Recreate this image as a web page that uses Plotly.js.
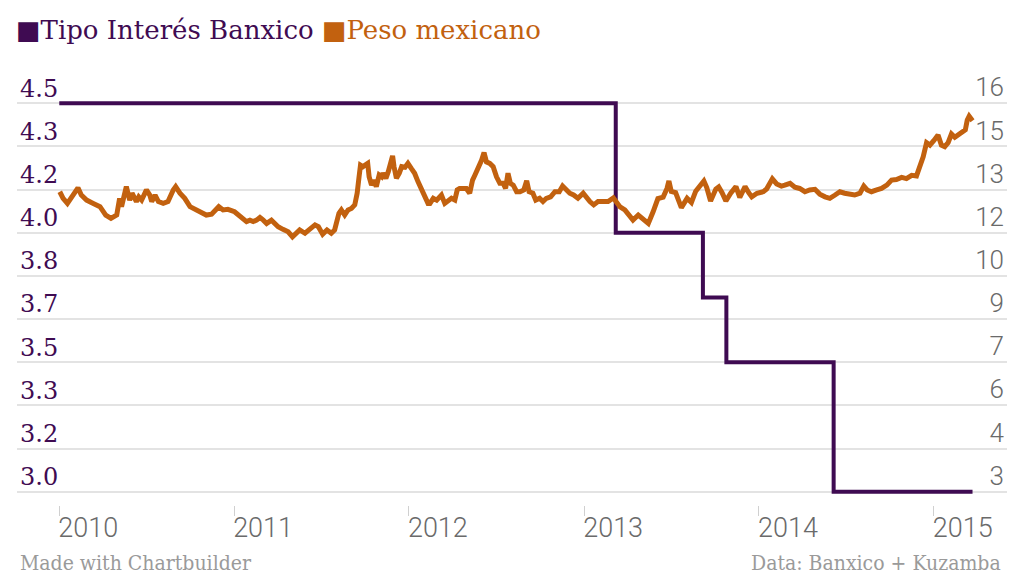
<!DOCTYPE html>
<html>
<head>
<meta charset="utf-8">
<script src="https://cdn.plot.ly/plotly-3.0.1.min.js"></script>
<style>
  html, body { margin: 0; padding: 0; background: #fff; }
  #chart { width: 1024px; height: 577px; }
</style>
</head>
<body>
<div id="chart"></div>
<script>
// Banxico target rate (%), step changes
const rateDates = ['2010-01-01', '2013-03-08', '2013-09-06', '2013-10-25', '2014-06-06', '2015-03-23'];
const rateValues = [4.5, 4.0, 3.75, 3.5, 3.0, 3.0];

// Mexican peso per US dollar
const pesoDates = [
  '2010-01-02','2010-01-09','2010-01-18','2010-01-28','2010-02-06','2010-02-09','2010-02-16','2010-02-27',
  '2010-03-13','2010-03-27','2010-04-08','2010-04-19','2010-05-01','2010-05-07','2010-05-11','2010-05-18',
  '2010-05-21','2010-05-28','2010-06-02','2010-06-11','2010-06-16','2010-06-22','2010-07-02','2010-07-09',
  '2010-07-13','2010-07-20','2010-07-27','2010-08-06','2010-08-16','2010-08-27','2010-09-01','2010-09-10',
  '2010-09-20','2010-10-01','2010-10-11','2010-10-25','2010-11-04','2010-11-15','2010-11-25','2010-11-30',
  '2010-12-09','2010-12-19',
  '2011-01-02','2011-01-13','2011-01-20','2011-01-27','2011-02-03','2011-02-10','2011-02-17','2011-02-24',
  '2011-03-03','2011-03-10','2011-03-20','2011-03-27','2011-04-03','2011-04-13','2011-04-24','2011-05-03',
  '2011-05-11','2011-05-18','2011-05-29','2011-06-08','2011-06-19','2011-06-26','2011-07-05','2011-07-14',
  '2011-07-23','2011-07-30','2011-08-08','2011-08-13','2011-08-20','2011-08-27','2011-09-03','2011-09-10',
  '2011-09-15','2011-09-19','2011-09-22','2011-09-27','2011-10-03','2011-10-07','2011-10-10','2011-10-15',
  '2011-10-20','2011-10-25','2011-10-31','2011-11-05','2011-11-08','2011-11-14','2011-11-19','2011-11-24',
  '2011-11-28','2011-12-01','2011-12-06','2011-12-12','2011-12-17','2011-12-24','2011-12-30',
  '2012-01-06','2012-01-13','2012-01-20','2012-01-27','2012-02-03','2012-02-10','2012-02-14','2012-02-21',
  '2012-02-28','2012-03-09','2012-03-16','2012-03-23','2012-03-30','2012-04-06','2012-04-11','2012-04-16',
  '2012-04-23','2012-04-30','2012-05-07','2012-05-13','2012-05-18','2012-05-25','2012-06-01','2012-06-06',
  '2012-06-11','2012-06-18','2012-06-25','2012-07-02','2012-07-09','2012-07-16','2012-07-21','2012-07-26',
  '2012-07-31','2012-08-06','2012-08-13','2012-08-20','2012-08-28','2012-09-03','2012-09-08','2012-09-16',
  '2012-09-22','2012-09-30','2012-10-07','2012-10-14','2012-10-23','2012-11-01','2012-11-10','2012-11-17',
  '2012-11-24','2012-12-02','2012-12-10','2012-12-19','2012-12-30',
  '2013-01-06','2013-01-13','2013-01-21','2013-01-30','2013-02-09','2013-02-20','2013-03-03','2013-03-10',
  '2013-03-17','2013-03-27','2013-04-06','2013-04-13','2013-04-24','2013-05-04','2013-05-15','2013-05-25',
  '2013-06-04','2013-06-15','2013-06-23','2013-06-27','2013-07-02','2013-07-11','2013-07-23','2013-08-04',
  '2013-08-13','2013-08-22','2013-08-31','2013-09-08','2013-09-14','2013-09-22','2013-10-03','2013-10-09',
  '2013-10-16','2013-10-24','2013-11-03','2013-11-14','2013-11-22','2013-12-03','2013-12-11','2013-12-17',
  '2013-12-28',
  '2014-01-10','2014-01-17','2014-01-29','2014-02-07','2014-02-17','2014-02-24','2014-03-07','2014-03-17',
  '2014-03-27','2014-04-07','2014-04-17','2014-04-28','2014-05-08','2014-05-19','2014-05-29','2014-06-09',
  '2014-06-19','2014-06-29','2014-07-10','2014-07-20','2014-07-31','2014-08-08','2014-08-15','2014-08-24',
  '2014-09-04','2014-09-14','2014-09-25','2014-10-05','2014-10-15','2014-10-26','2014-11-05','2014-11-16',
  '2014-11-26','2014-12-03','2014-12-10','2014-12-17','2014-12-24',
  '2015-01-01','2015-01-10','2015-01-17','2015-01-24','2015-01-31','2015-02-07','2015-02-14','2015-02-21',
  '2015-03-02','2015-03-08','2015-03-12','2015-03-16','2015-03-23'
];
const pesoValues = [
  13.04,12.82,12.65,12.87,13.10,13.17,12.93,12.76,
  12.65,12.54,12.26,12.15,12.26,12.82,12.54,13.10,
  13.21,12.76,12.99,12.71,12.87,12.76,13.10,12.93,
  12.71,12.93,12.71,12.65,12.71,13.10,13.21,12.99,
  12.82,12.54,12.45,12.37,12.26,12.29,12.43,12.54,
  12.43,12.45,
  12.37,12.21,12.09,12.04,12.09,12.04,12.09,12.18,
  12.09,11.98,12.09,11.98,11.87,11.78,11.70,11.53,
  11.65,11.76,11.65,11.76,11.93,11.87,11.62,11.76,
  11.65,11.76,12.32,12.43,12.26,12.43,12.48,12.60,
  12.99,13.54,13.93,13.88,13.93,13.99,13.54,13.26,
  13.43,13.21,13.60,13.54,13.66,13.49,13.71,14.10,
  14.24,13.88,13.49,13.66,13.88,13.86,13.99,
  13.82,13.66,13.38,13.10,12.82,12.65,12.65,12.82,
  12.76,12.93,12.65,12.76,12.82,12.76,13.10,13.15,
  13.15,13.15,12.99,13.43,13.60,13.82,14.10,14.35,
  14.04,13.99,13.88,13.54,13.32,13.32,13.15,13.66,
  13.32,13.26,13.04,13.04,13.10,13.41,13.04,12.99,
  12.76,12.82,12.71,12.82,12.87,13.04,13.04,13.23,
  13.10,12.99,12.93,12.82,12.99,
  12.82,12.71,12.60,12.71,12.71,12.71,12.83,12.71,
  12.53,12.43,12.26,12.09,12.26,12.15,11.98,12.37,
  12.81,12.86,13.15,13.40,13.05,13.01,12.51,12.82,
  12.68,13.06,13.26,13.40,13.18,12.73,13.13,13.20,
  13.01,12.73,12.99,13.21,12.85,13.21,13.00,12.87,
  12.99,
  13.04,13.13,13.47,13.30,13.23,13.26,13.32,13.19,
  13.15,13.04,13.10,13.12,12.96,12.87,12.82,12.93,
  13.04,12.99,12.96,12.93,12.99,13.23,13.10,13.04,
  13.10,13.15,13.26,13.43,13.45,13.52,13.48,13.59,
  13.57,13.88,14.21,14.68,14.60,
  14.75,14.94,14.60,14.55,14.68,14.97,14.86,14.94,
  15.05,15.11,15.44,15.57,15.42
];

// Axis ticks
const yearTicks = ['2010-01-01', '2011-01-01', '2012-01-01', '2013-01-01', '2014-01-01', '2015-01-01'];
const yearLabels = ['2010', '2011', '2012', '2013', '2014', '2015'];
const rateTickVals = [3.0, 3.1667, 3.3333, 3.5, 3.6667, 3.8333, 4.0, 4.1667, 4.3333, 4.5];
const rateTickText = ['3.0', '3.2', '3.3', '3.5', '3.7', '3.8', '4.0', '4.2', '4.3', '4.5'];
const pesoTickVals = [3, 4.4444, 5.8889, 7.3333, 8.7778, 10.2222, 11.6667, 13.1111, 14.5556, 16];
const pesoTickText = ['3', '4', '6', '7', '9', '10', '12', '13', '15', '16'];

const PURPLE = '#3f0b52';
const ORANGE = '#c2610f';
const GREY = '#6a6a6a';

const traces = [
  {
    x: rateDates, y: rateValues, yaxis: 'y', type: 'scatter', mode: 'lines',
    line: { color: PURPLE, width: 4, shape: 'hv' }, hoverinfo: 'skip'
  },
  {
    x: pesoDates, y: pesoValues, yaxis: 'y2', type: 'scatter', mode: 'lines',
    line: { color: ORANGE, width: 5, shape: 'linear' }, hoverinfo: 'skip'
  }
];

const layout = {
  width: 1024, height: 577,
  margin: { l: 17, r: 17, t: 70, b: 72 },
  paper_bgcolor: '#ffffff', plot_bgcolor: '#ffffff',
  showlegend: false,
  title: {
    text: '<span style="color:' + PURPLE + '">■Tipo Interés Banxico</span> ' +
          '<span style="color:' + ORANGE + '">■Peso mexicano</span>',
    font: { family: 'DejaVu Serif', size: 26 },
    x: 16 / 1024, xanchor: 'left', xref: 'container',
    y: 1 - 30 / 577, yanchor: 'middle', yref: 'container'
  },
  xaxis: {
    type: 'date',
    range: ['2009-10-04 17:00', '2015-06-03'],
    tickvals: yearTicks, ticktext: yearLabels,
    ticks: 'outside', ticklen: 10, tickwidth: 1, tickcolor: '#d0d0d0',
    ticklabelshift: 29, ticklabelstandoff: -11,
    tickfont: { family: 'Roboto', size: 27, color: GREY, weight: 300 },
    showgrid: false, zeroline: false, showline: false
  },
  yaxis: {
    range: [2.94863, 4.6286],
    tickvals: rateTickVals, ticktext: rateTickText,
    ticklabelposition: 'inside', ticklabelshift: -15, ticklabelstandoff: 0,
    tickfont: { family: 'DejaVu Serif', size: 24, color: PURPLE },
    showgrid: true, gridcolor: '#e3e3e3', gridwidth: 2,
    zeroline: false, showline: false, ticks: ''
  },
  yaxis2: {
    overlaying: 'y', side: 'right',
    range: [2.55485, 17.1146],
    tickvals: pesoTickVals, ticktext: pesoTickText,
    ticklabelposition: 'inside', ticklabelshift: -16, ticklabelstandoff: 0,
    tickfont: { family: 'Roboto', size: 26, color: GREY, weight: 300 },
    showgrid: false, zeroline: false, showline: false, ticks: ''
  },
  annotations: [
    {
      text: 'Made with Chartbuilder', xref: 'paper', yref: 'paper',
      x: 1 / 990, y: (505 - 563) / 435, xanchor: 'left', yanchor: 'middle',
      showarrow: false, font: { family: 'DejaVu Serif Condensed', size: 21, color: '#9a9a9a' }
    },
    {
      text: 'Data: Banxico + Kuzamba', xref: 'paper', yref: 'paper',
      x: 986 / 990, y: (505 - 563) / 435, xanchor: 'right', yanchor: 'middle',
      showarrow: false, font: { family: 'DejaVu Serif Condensed', size: 21, color: '#9a9a9a' }
    }
  ]
};

Plotly.newPlot('chart', traces, layout, { displayModeBar: false, staticPlot: true });
</script>
</body>
</html>
